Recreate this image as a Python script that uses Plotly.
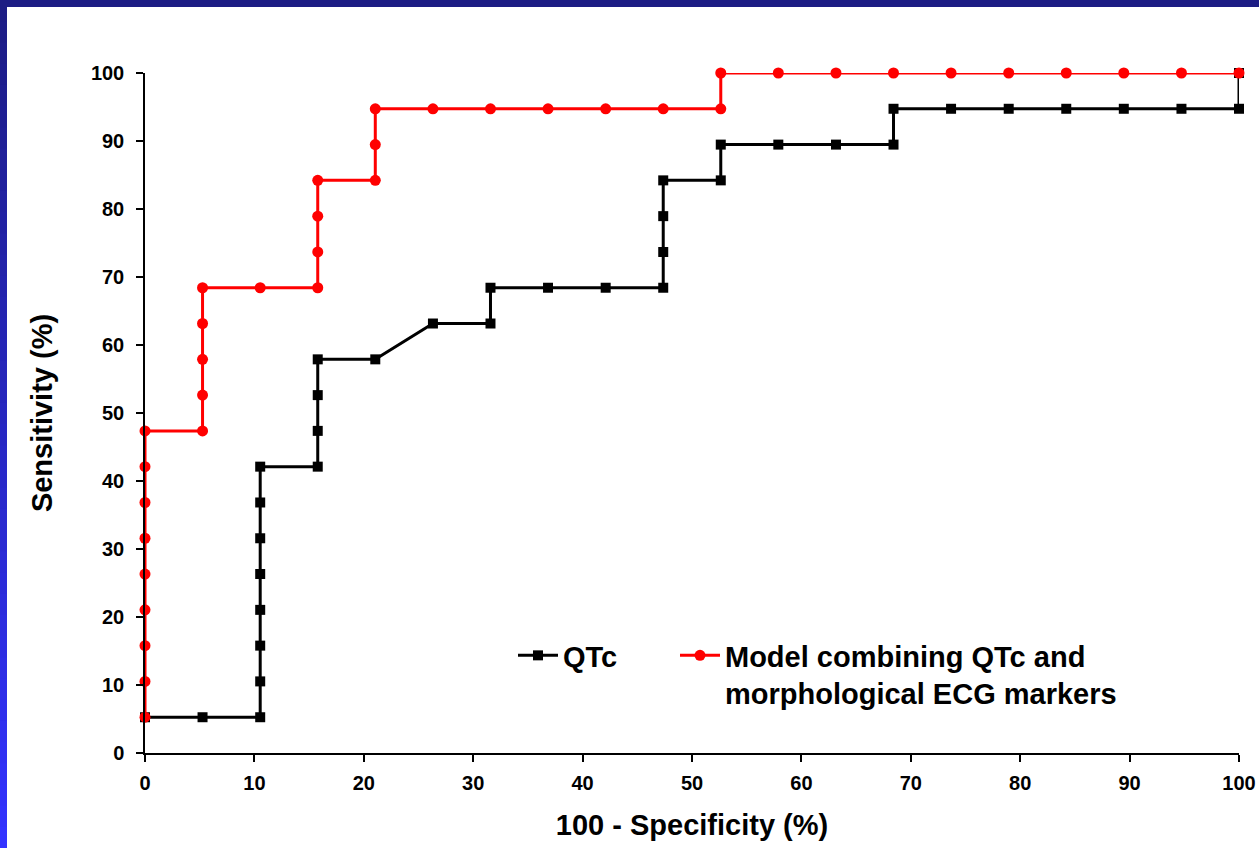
import plotly.graph_objects as go

# ---- data (percent) ----
qtc_x = [0, 5.26, 10.53, 10.53, 10.53, 10.53, 10.53, 10.53, 10.53, 10.53,
         15.79, 15.79, 15.79, 15.79, 21.05, 26.32, 31.58, 31.58, 36.84, 42.11,
         47.37, 47.37, 47.37, 47.37, 52.63, 52.63, 57.89, 63.16, 68.42, 68.42,
         73.68, 78.95, 84.21, 89.47, 94.74, 100, 100]
qtc_y = [5.26, 5.26, 5.26, 10.53, 15.79, 21.05, 26.32, 31.58, 36.84, 42.11,
         42.11, 47.37, 52.63, 57.89, 57.89, 63.16, 63.16, 68.42, 68.42, 68.42,
         68.42, 73.68, 78.95, 84.21, 84.21, 89.47, 89.47, 89.47, 89.47, 94.74,
         94.74, 94.74, 94.74, 94.74, 94.74, 94.74, 100]

model_x = [0, 0, 0, 0, 0, 0, 0, 0, 0, 5.26, 5.26, 5.26, 5.26, 5.26,
           10.53, 15.79, 15.79, 15.79, 15.79, 21.05, 21.05, 21.05,
           26.32, 31.58, 36.84, 42.11, 47.37, 52.63, 52.63, 57.89, 63.16,
           68.42, 73.68, 78.95, 84.21, 89.47, 94.74, 100]
model_y = [5.26, 10.53, 15.79, 21.05, 26.32, 31.58, 36.84, 42.11, 47.37,
           47.37, 52.63, 57.89, 63.16, 68.42, 68.42, 68.42, 73.68, 78.95,
           84.21, 84.21, 89.47, 94.74, 94.74, 94.74, 94.74, 94.74, 94.74,
           94.74, 100, 100, 100, 100, 100, 100, 100, 100, 100, 100]

x_ticks = [0, 10, 20, 30, 40, 50, 60, 70, 80, 90, 100]
y_ticks = [0, 10, 20, 30, 40, 50, 60, 70, 80, 90, 100]

W, H = 1259, 848
L, R, T, B = 145, 20, 73, 95
FONT = "Liberation Sans, Arial, sans-serif"

fig = go.Figure()
fig.add_trace(go.Scatter(
    x=qtc_x, y=qtc_y, mode="lines+markers", name="QTc", legend="legend",
    line=dict(color="black", width=3),
    marker=dict(symbol="square", size=10, color="black"),
    cliponaxis=False))
fig.add_trace(go.Scatter(
    x=model_x, y=model_y, mode="lines+markers", legend="legend2",
    name="Model combining QTc and<br>morphological ECG markers",
    line=dict(color="#ff0000", width=3),
    marker=dict(symbol="circle", size=11, color="#ff0000"),
    cliponaxis=False))

pw, ph = W - L - R, H - T - B
def px2paper_x(px):
    return (px - L) / pw
def px2paper_y(py):
    return (H - B - py) / ph

shapes = []
shapes.append(dict(type="rect", xref="paper", yref="paper",
                   x0=px2paper_x(0), x1=px2paper_x(W), y0=px2paper_y(7), y1=px2paper_y(0),
                   fillcolor="#1c1c84", line=dict(width=0), layer="below"))
n = 40
c0 = (0x1c, 0x1c, 0x84)
c1 = (0x33, 0x33, 0xff)
for i in range(n):
    t = i / (n - 1)
    c = tuple(int(c0[k] + (c1[k] - c0[k]) * t) for k in range(3))
    ya = i * H / n
    yb = (i + 1) * H / n + 1
    shapes.append(dict(type="rect", xref="paper", yref="paper",
                       x0=px2paper_x(0), x1=px2paper_x(7),
                       y0=px2paper_y(yb), y1=px2paper_y(ya),
                       fillcolor="rgb(%d,%d,%d)" % c, line=dict(width=0), layer="below"))

legfont = dict(family=FONT, size=29, color="black", weight="bold")
fig.update_layout(
    width=W, height=H,
    margin=dict(l=L, r=R, t=T, b=B, pad=0),
    paper_bgcolor="white", plot_bgcolor="white",
    font=dict(family=FONT, color="black"),
    shapes=shapes,
    showlegend=True,
    legend=dict(x=px2paper_x(513), y=px2paper_y(630), xanchor="left", yanchor="top",
                font=legfont, bgcolor="rgba(0,0,0,0)", itemwidth=40, valign="top"),
    legend2=dict(x=px2paper_x(675), y=px2paper_y(630), xanchor="left", yanchor="top",
                 font=legfont, bgcolor="rgba(0,0,0,0)", itemwidth=40, valign="top"),
    xaxis=dict(range=[0, 100], tickvals=x_ticks, ticktext=[str(v) for v in x_ticks],
               automargin=False,
               showgrid=False, zeroline=False, showline=True, linecolor="black", linewidth=1.5,
               ticks="outside", ticklen=7, tickwidth=1.5, tickcolor="black",
               ticklabelstandoff=4,
               tickfont=dict(family=FONT, size=20, color="black", weight="bold"),
               title=dict(text="100 - Specificity (%)", standoff=22,
                          font=dict(family=FONT, size=29, color="black", weight="bold"))),
    yaxis=dict(range=[0, 100], tickvals=y_ticks, ticktext=[str(v) for v in y_ticks],
               automargin=False,
               showgrid=False, zeroline=False, showline=True, linecolor="black", linewidth=1.5,
               ticks="outside", ticklen=7, tickwidth=1.5, tickcolor="black",
               ticklabelstandoff=8,
               tickfont=dict(family=FONT, size=20, color="black", weight="bold"),
               title=dict(text="Sensitivity (%)", standoff=30,
                          font=dict(family=FONT, size=29, color="black", weight="bold"))),
)

fig.write_html("out.html")
